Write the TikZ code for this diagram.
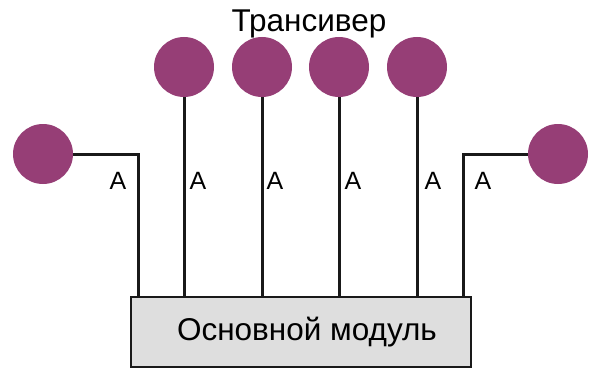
\documentclass[tikz,border=0pt]{standalone}
\usepackage{fontspec}
\setmainfont{Liberation Sans}
\definecolor{ant}{RGB}{150,62,118}
\definecolor{boxgray}{RGB}{222,222,222}
\begin{document}
\begin{tikzpicture}[x=1pt,y=-1pt,
  antenna/.style={circle,fill=ant,minimum size=60pt,inner sep=0pt},
  wire/.style={line width=3pt,black!90},
  lab/.style={font=\fontsize{25}{28}\selectfont,inner sep=0pt},
  modbox/.style={draw=black!90,line width=2.5pt,fill=boxgray,minimum width=340pt,minimum height=70pt,inner sep=0pt,font=\fontsize{31.5}{36}\selectfont}]
\useasboundingbox (0,0) rectangle (592,369);
\node[modbox] (m) at (301,332) {};
\node[font=\fontsize{31.5}{36}\selectfont,inner sep=0pt] (mt) at (307,332) {Основной модуль};
\node[font=\fontsize{31.5}{36}\selectfont,inner sep=0pt] (t) at (309,24) {Трансивер};
\node[antenna] (a1) at (43,154) {};
\node[antenna] (a2) at (184,67) {};
\node[antenna] (a3) at (262,67) {};
\node[antenna] (a4) at (339,67) {};
\node[antenna] (a5) at (417,67) {};
\node[antenna] (a6) at (558,154) {};
\coordinate (b1) at (138,297);
\coordinate (b6) at (463,297);
\draw[wire] (a1.east) -| (b1);
\draw[wire] (a2.south) -- (a2.south |- m.north);
\draw[wire] (a3.south) -- (a3.south |- m.north);
\draw[wire] (a4.south) -- (a4.south |- m.north);
\draw[wire] (a5.south) -- (a5.south |- m.north);
\draw[wire] (a6.west) -| (b6);
\node[lab] (l1) at (118,181) {A};
\node[lab] (l2) at (198,181) {A};
\node[lab] (l3) at (275,181) {A};
\node[lab] (l4) at (353,181) {A};
\node[lab] (l5) at (433,181) {A};
\node[lab] (l6) at (483,181) {A};
\end{tikzpicture}
\end{document}
